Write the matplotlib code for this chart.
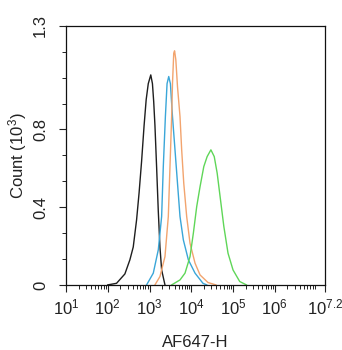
import numpy as np
import matplotlib
matplotlib.use("Agg")
import matplotlib.pyplot as plt
from matplotlib.ticker import FixedLocator, NullFormatter, LogLocator

plt.rcParams['font.family'] = ['Liberation Sans', 'DejaVu Sans']
plt.rcParams['mathtext.fontset'] = 'custom'
plt.rcParams['mathtext.rm'] = 'Liberation Sans'
plt.rcParams['mathtext.it'] = 'Liberation Sans'

# log10(AF647-H) positions and counts (x10^3)
black_log = [2.00, 2.21, 2.41, 2.53, 2.61, 2.69, 2.75, 2.81, 2.87, 2.92, 2.97, 3.03,
             3.07, 3.10, 3.13, 3.17, 3.21, 3.25, 3.29, 3.37]
black_cnt = [0.0, 0.008, 0.055, 0.126, 0.19, 0.326, 0.462, 0.62, 0.80, 0.93, 1.01, 1.054,
             1.01, 0.92, 0.80, 0.59, 0.37, 0.19, 0.075, 0.0]

blue_log = [2.93, 3.09, 3.21, 3.29, 3.33, 3.38, 3.42, 3.46, 3.50, 3.55, 3.61, 3.67,
            3.73, 3.81, 3.93, 4.09, 4.28, 4.37]
blue_cnt = [0.0, 0.059, 0.176, 0.343, 0.594, 0.845, 1.01, 1.046, 1.01, 0.845, 0.678, 0.51,
            0.343, 0.226, 0.126, 0.059, 0.008, 0.0]

orange_log = [3.13, 3.25, 3.37, 3.45, 3.49, 3.53, 3.55, 3.58, 3.60, 3.63, 3.67, 3.73,
              3.77, 3.82, 3.89, 3.97, 4.09, 4.21, 4.40, 4.59]
orange_cnt = [0.0, 0.042, 0.142, 0.343, 0.594, 0.845, 1.01, 1.163, 1.175, 1.13, 0.995, 0.845,
              0.678, 0.51, 0.343, 0.209, 0.109, 0.05, 0.012, 0.0]

green_log = [3.53, 3.73, 3.85, 3.97, 4.05, 4.13, 4.21, 4.30, 4.38, 4.47, 4.55, 4.62,
             4.70, 4.78, 4.88, 5.00, 5.16, 5.32]
green_cnt = [0.0, 0.025, 0.059, 0.142, 0.26, 0.393, 0.493, 0.594, 0.644, 0.678, 0.644, 0.561,
             0.427, 0.293, 0.159, 0.075, 0.017, 0.0]

x_ticks = [1, 2, 3, 4, 5, 6, 7.2]
x_labels = ['1', '2', '3', '4', '5', '6', '7.2']
y_ticks = [0, 0.39, 0.78, 1.3]
y_labels = ['0', '0.4', '0.8', '1.3']

fig = plt.figure(figsize=(3.42, 3.5), dpi=100)
ax = fig.add_axes([0.193, 0.186, 0.757, 0.740])

series = [
    (black_log, black_cnt, '#1e1e1e'),
    (blue_log, blue_cnt, '#3aa6d8'),
    (orange_log, orange_cnt, '#f2a46e'),
    (green_log, green_cnt, '#5fd658'),
]
for lx, cnt, col in series:
    ax.plot(10 ** np.array(lx), cnt, color=col, lw=1.0)

ax.set_xscale('log')
ax.set_xlim(10, 10 ** 7.2)
ax.set_ylim(0, 1.3)

ax.xaxis.set_major_locator(FixedLocator([10 ** t for t in x_ticks]))
ax.set_xticklabels([r'$\mathregular{10^{%s}}$' % s for s in x_labels])
ax.xaxis.set_minor_locator(LogLocator(base=10, subs=np.arange(2, 10), numticks=20))
ax.xaxis.set_minor_formatter(NullFormatter())

ax.set_yticks(y_ticks)
ax.set_yticklabels(y_labels, rotation=90, va='center')
ax.yaxis.set_minor_locator(FixedLocator(np.arange(0, 1.31, 0.13)))

ax.tick_params(which='major', direction='out', length=5, width=0.8, labelsize=12, colors='#222222')
ax.tick_params(which='minor', direction='out', length=3, width=0.6)
ax.tick_params(axis='y', pad=8)
ax.tick_params(axis='x', pad=4)

for sp in ax.spines.values():
    sp.set_linewidth(0.9)
    sp.set_color('#111111')

ax.set_xlabel('AF647-H', fontsize=12, labelpad=13, color='#222222')
ax.set_ylabel(r'Count $\mathregular{(10^{3})}$', fontsize=12, labelpad=3, color='#222222')

fig.savefig('out.png', dpi=100)
